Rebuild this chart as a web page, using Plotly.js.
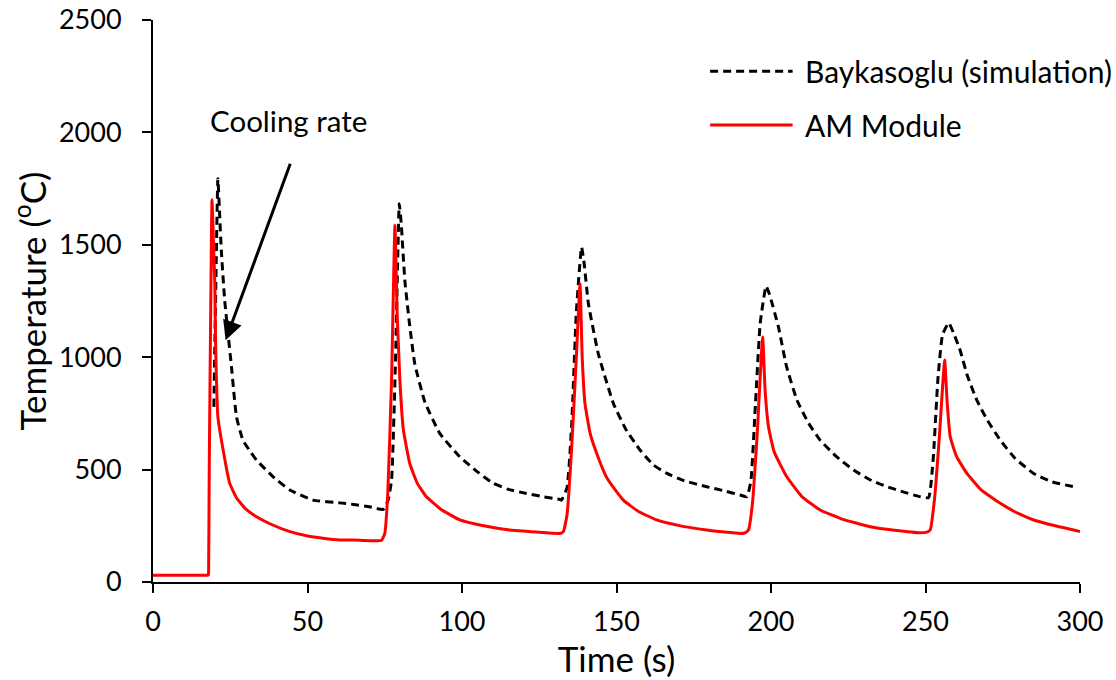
<!DOCTYPE html>
<html>
<head>
<meta charset="utf-8">
<script src="https://cdn.plot.ly/plotly-3.0.1.min.js"></script>
<style>html,body{margin:0;padding:0;background:#fff;}#chart{width:1116px;height:680px;}</style>
</head>
<body>
<div id="chart"></div>
<script>
// AM Module (red solid)
const amTime = [0,5,10,15,17.5,17.9,18.0,18.2,18.6,19.1,19.6,20.0,20.3,21.0,22.7,24.8,27,30,33.5,38,44.3,50,55,60.5,66.9,72,74.0,75.0,76.0,77.2,78.3,79.0,79.9,81,83.1,85.5,88.5,93,99.3,107,115.5,124,131.7,132.8,134,135.5,137,138.2,138.9,139.8,141.5,143.6,147,152.2,157,163,170,179.2,185,190,191.5,192.7,194,195.5,197.3,198.1,199.2,201,205.1,210,215.9,223,232.1,240,248.3,250.5,251.5,253,254.5,256.2,257,258,260,263.4,268,274.2,280,285,292,300];
const amTemp = [30,30,30,30,30,30,50,500,1100,1700,1500,1327,1031,735,587,440,375,325,290,258,224,205,195,187,186,183,186,215,400,900,1587,1200,898,680,527,440,379,325,276,250,231,222,216,224,300,600,1000,1327,1000,794,660,572,460,364,315,276,252,231,222,216,218,231,350,650,1090,850,690,580,468,380,320,280,246,230,219,222,231,380,650,987,800,646,560,483,410,350,305,276,250,225];

// Baykasoglu (simulation) (black dashed)
const bkTime = [19.7,20.3,21.0,21.6,22.1,23.2,24.4,25.4,27.0,29.1,31,33.5,38.9,44.3,51.8,60.5,65,70,74.5,76,77.2,78.5,79.3,79.7,80.3,81.5,83,84.7,88,92.8,99.3,105,110.1,115,120.9,126,131.7,132.2,134,135.5,137,138.7,139.5,140.9,144.1,149,153,157.6,162,166.3,172,179.2,185,190,192.2,193.5,195,196.5,198.4,199.5,202.4,205,208.4,212,215.9,221,226.7,232,237.5,243,248.3,251,252.5,254,255.5,257.5,259,261.2,263.5,266.6,270,274.2,279,285,291,298];
const bkTemp = [779,1300,1794,1624,1476,1253,1090,957,735,631,590,542,468,409,364,352,345,335,323,360,453,1000,1500,1683,1600,1342,1150,972,800,661,557,490,439,412,394,380,367,364,420,700,1200,1490,1420,1239,1016,794,680,587,520,483,450,424,405,387,379,450,800,1150,1316,1280,1135,960,809,710,631,560,498,455,424,400,379,375,550,900,1100,1153,1110,1031,920,809,720,631,550,483,445,424];

const seriesNames = ["Baykasoglu (simulation)", "AM Module"];
const xTicks = [0,50,100,150,200,250,300];
const yTicks = [0,500,1000,1500,2000,2500];
const annoText = "Cooling rate";

const FONT = "Lato, 'Open Sans', sans-serif";

const traces = [
  {x: bkTime, y: bkTemp, type: "scatter", mode: "lines", name: seriesNames[0],
   line: {color: "#000000", width: 3, dash: "8px,5px", shape: "spline", smoothing: 0.4}, showlegend: false},
  {x: amTime, y: amTemp, type: "scatter", mode: "lines", name: seriesNames[1],
   line: {color: "#ff0000", width: 3, shape: "spline", smoothing: 0.4}, showlegend: false}
];

const layout = {
  width: 1116, height: 680,
  margin: {l: 153, r: 36, t: 20, b: 98},
  paper_bgcolor: "#ffffff", plot_bgcolor: "#ffffff",
  font: {family: FONT, color: "#000000", size: 27},
  xaxis: {
    range: [0, 300], tickvals: xTicks, ticktext: xTicks.map(String),
    showgrid: false, zeroline: false, showline: true, linecolor: "#000", linewidth: 2,
    ticks: "outside", ticklen: 9, tickwidth: 2, tickcolor: "#000",
    ticklabelstandoff: 6,
    tickfont: {family: FONT, size: 27, color: "#000"},
    title: {text: "Time (s)", font: {family: FONT, size: 35, color: "#000"}, standoff: 0}
  },
  yaxis: {
    range: [0, 2500], tickvals: yTicks, ticktext: yTicks.map(String),
    showgrid: false, zeroline: false, showline: true, linecolor: "#000", linewidth: 2,
    ticks: "outside", ticklen: 9, tickwidth: 2, tickcolor: "#000",
    ticklabelstandoff: 15,
    tickfont: {family: FONT, size: 27, color: "#000"},
    title: {text: "Temperature (<sup>o</sup>C)", font: {family: FONT, size: 35, color: "#000"}, standoff: 2}
  },
  shapes: [
    {type: "line", xref: "paper", yref: "paper", x0: 0.601, x1: 0.690, y0: 0.909, y1: 0.909,
     line: {color: "#000", width: 3, dash: "8px,5px"}},
    {type: "line", xref: "paper", yref: "paper", x0: 0.601, x1: 0.690, y0: 0.813, y1: 0.813,
     line: {color: "#ff0000", width: 3}}
  ],
  annotations: [
    {xref: "paper", yref: "paper", x: 0.701, y: 0.909, xanchor: "left", yanchor: "middle",
     text: seriesNames[0], showarrow: false, font: {family: FONT, size: 30, color: "#000"}},
    {xref: "paper", yref: "paper", x: 0.701, y: 0.813, xanchor: "left", yanchor: "middle",
     text: seriesNames[1], showarrow: false, font: {family: FONT, size: 30, color: "#000"}},
    {xref: "x", yref: "y", x: 43.9, y: 2053, text: annoText, showarrow: false,
     xanchor: "center", yanchor: "middle", font: {family: FONT, size: 29.5, color: "#000"}},
    {xref: "x", yref: "y", x: 23.5, y: 1075, axref: "x", ayref: "y", ax: 44.6, ay: 1867,
     text: "", showarrow: true, arrowhead: 2, arrowsize: 1.3, arrowwidth: 3, arrowcolor: "#000", standoff: 0}
  ]
};

Plotly.newPlot("chart", traces, layout, {displayModeBar: false, staticPlot: true});
</script>
</body>
</html>
